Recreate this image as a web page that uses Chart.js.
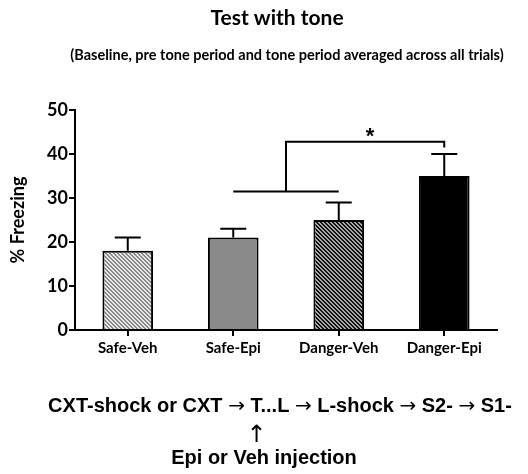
<!DOCTYPE html>
<html>
<head>
<meta charset="utf-8">
<script src="https://cdn.jsdelivr.net/npm/chart.js@4.4.1/dist/chart.umd.min.js"></script>
<style>
html, body { margin: 0; padding: 0; background: #fff; }
</style>
</head>
<body>
<canvas id="grafico" width="528" height="474"></canvas>
<script>
// DADOS
const grupos = ['Safe-Veh', 'Safe-Epi', 'Danger-Veh', 'Danger-Epi']
const freezing = [18, 21, 25, 35]
const erro = [3, 2, 4, 5]
const yTicks = [0, 10, 20, 30, 40, 50]

// colchete de significância: grupos 1-2 contra o grupo 3
const bracketBase = [1, 2]
const bracketAlvo = 3
const bracketNiveis = [31.5, 42.8, 41.5]
const bracketLabel = '*'

const titulo = 'Test with tone'
const subtitulo = '(Baseline, pre tone period and tone period averaged across all trials)'
const etapas = ['CXT-shock or CXT', 'T...L', 'L-shock', 'S2-', 'S1-']
const seta = '\u2192'
const setaCima = '\u2191'
const injecao = 'Epi or Veh injection'


// PADRÃO LISTRADO
function listras(fundo, linha) {
    const c = document.createElement('canvas')
    c.width = 4
    c.height = 4
    const g = c.getContext('2d')
    g.fillStyle = fundo
    g.fillRect(0, 0, 4, 4)
    g.fillStyle = linha
    for (let x = 0; x < 4; x++) {
        for (let y = 0; y < 4; y++) {
            if ((((x - y) % 4) + 4) % 4 < 2) g.fillRect(x, y, 1, 1)
        }
    }
    return g.createPattern(c, 'repeat')
}

const cores = [
    listras('#e8e8e8', '#8a8a8a'),
    '#8a8a8a',
    listras('#111111', '#a8a8a8'),
    '#000000'
]


// BARRAS DE ERRO (só para cima)
const barrasErro = {
    id: 'barrasErro',
    afterDatasetsDraw(chart) {
        const { ctx, scales: { x, y } } = chart
        ctx.save()
        ctx.strokeStyle = '#000'
        ctx.lineWidth = 2
        freezing.forEach((v, i) => {
            const px = x.getPixelForValue(i)
            const topo = y.getPixelForValue(v + erro[i])
            ctx.beginPath()
            ctx.moveTo(px, y.getPixelForValue(v))
            ctx.lineTo(px, topo)
            ctx.moveTo(px - 13, topo)
            ctx.lineTo(px + 13, topo)
            ctx.stroke()
        })
        ctx.restore()
    }
}


// COLCHETE + TEXTOS
const anotacoes = {
    id: 'anotacoes',
    afterDraw(chart) {
        const { ctx, scales: { x, y } } = chart
        ctx.save()

        // colchete
        const xa = x.getPixelForValue(bracketBase[0])
        const xb = x.getPixelForValue(bracketBase[1])
        const xm = (xa + xb) / 2
        const xc = x.getPixelForValue(bracketAlvo)
        const y1 = y.getPixelForValue(bracketNiveis[0])
        const y2 = y.getPixelForValue(bracketNiveis[1])
        const y3 = y.getPixelForValue(bracketNiveis[2])
        ctx.strokeStyle = '#000'
        ctx.lineWidth = 2
        ctx.beginPath()
        ctx.moveTo(xa, y1)
        ctx.lineTo(xb, y1)
        ctx.moveTo(xm, y1)
        ctx.lineTo(xm, y2)
        ctx.lineTo(xc, y2)
        ctx.lineTo(xc, y3)
        ctx.stroke()

        ctx.fillStyle = '#000'
        ctx.textAlign = 'center'
        ctx.textBaseline = 'alphabetic'
        ctx.font = 'bold 22px "Liberation Sans"'
        const m = ctx.measureText(bracketLabel)
        const meio = (m.actualBoundingBoxAscent - m.actualBoundingBoxDescent) / 2
        ctx.fillText(bracketLabel, (xm + xc) / 2 + 5, y2 - 9 + meio)

        // títulos
        ctx.textBaseline = 'middle'
        ctx.font = 'bold 21px Lato'
        ctx.fillText(titulo, 277, 18)
        ctx.font = 'bold 14.5px Lato'
        ctx.fillText(subtitulo, 287, 55)

        // protocolo: texto em Arial bold, setas finas em DejaVu
        const fonteTexto = 'bold 20px "Liberation Sans"'
        const fonteSeta = '20px "DejaVu Sans"'
        ctx.textAlign = 'left'
        ctx.textBaseline = 'alphabetic'
        ctx.font = fonteTexto
        const espaco = ctx.measureText(' ').width
        const larguras = etapas.map(t => ctx.measureText(t).width)
        ctx.font = fonteSeta
        const wSeta = ctx.measureText(seta).width
        const total = larguras.reduce((a, b) => a + b, 0) + (etapas.length - 1) * (wSeta + 2 * espaco)
        let cx = 280 - total / 2
        let xT = 0
        etapas.forEach((t, i) => {
            ctx.font = fonteTexto
            if (i === 1) xT = cx + ctx.measureText('T').width / 2
            ctx.fillText(t, cx, 412)
            cx += larguras[i]
            if (i < etapas.length - 1) {
                cx += espaco
                ctx.font = fonteSeta
                ctx.fillText(seta, cx, 412)
                cx += wSeta + espaco
            }
        })

        ctx.textAlign = 'center'
        ctx.font = '24px "DejaVu Sans"'
        const ma = ctx.measureText(setaCima)
        const meioSeta = (ma.actualBoundingBoxAscent - ma.actualBoundingBoxDescent) / 2
        ctx.fillText(setaCima, xT, 433 + meioSeta)

        ctx.font = fonteTexto
        ctx.fillText(injecao, 264, 464)

        ctx.restore()
    }
}


// CRIANDO O GRÁFICO
const configuracao = {
    type: 'bar',
    data: {
        labels: grupos,
        datasets: [{
            label: '% Freezing',
            data: freezing,
            backgroundColor: cores,
            borderColor: '#000',
            borderWidth: 2,
            barPercentage: 0.48,
            categoryPercentage: 1
        }]
    },
    options: {
        responsive: false,
        animation: false,
        layout: { padding: { top: 110, right: 31, left: 0, bottom: 0 } },
        plugins: {
            legend: { display: false },
            tooltip: { enabled: false }
        },
        scales: {
            x: {
                grid: { drawOnChartArea: false, drawTicks: true, tickLength: 6, color: '#000', lineWidth: 2, offset: false },
                border: { color: '#000', width: 2 },
                ticks: { color: '#000', font: { family: 'Lato', weight: 'bold', size: 15 }, padding: 3 },
                afterFit(s) { s.height = 144 }
            },
            y: {
                min: 0,
                max: 50,
                afterBuildTicks(s) { s.ticks = yTicks.map(v => ({ value: v })) },
                grid: { drawOnChartArea: false, tickLength: 6, color: '#000', lineWidth: 2 },
                border: { color: '#000', width: 2 },
                ticks: { color: '#000', font: { family: 'Lato', weight: 'bold', size: 18 }, padding: 1 },
                title: {
                    display: true,
                    text: '% Freezing',
                    color: '#000',
                    font: { family: 'Lato', weight: 'bold', size: 18 },
                    padding: { top: 7, bottom: 0 }
                },
                afterFit(s) { s.width = 75 }
            }
        }
    },
    plugins: [barrasErro, anotacoes]
}

const meuGrafico = new Chart(
    document.getElementById('grafico').getContext('2d'),
    configuracao
)
</script>
</body>
</html>
